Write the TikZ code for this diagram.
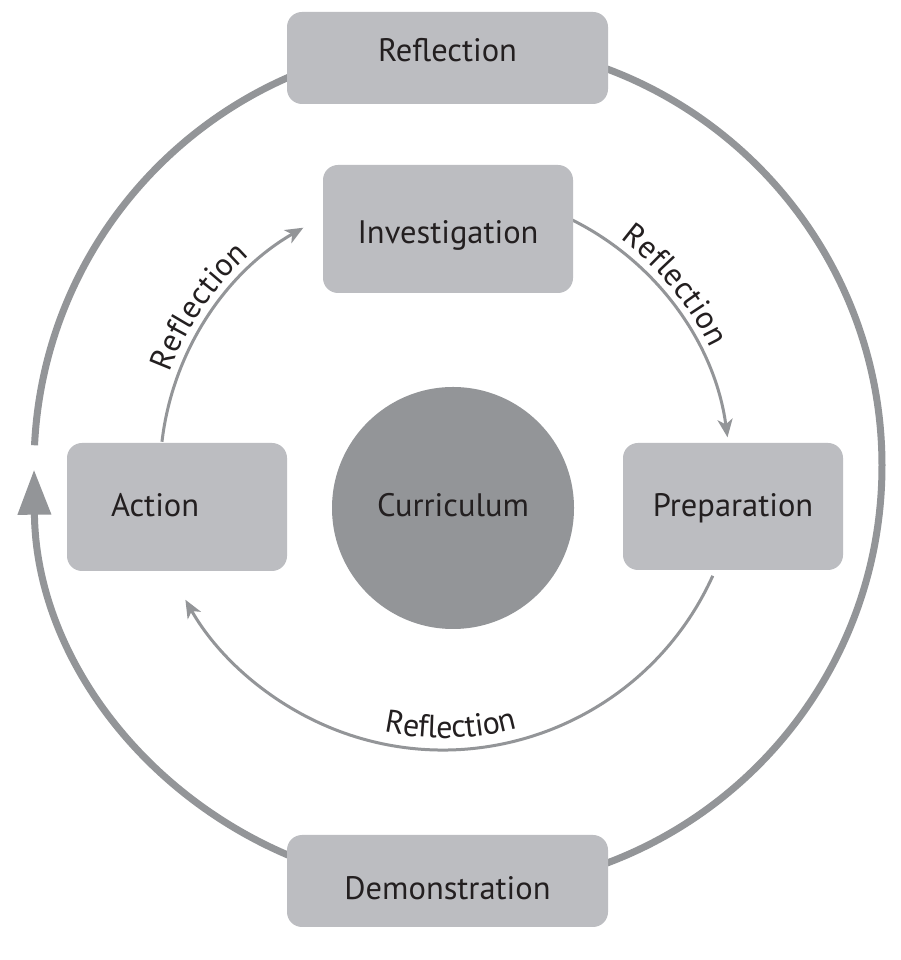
\documentclass[tikz,border=0pt]{standalone}
\usepackage{fontspec}
\setmainfont{PT Sans}
\usetikzlibrary{arrows.meta,decorations.text,calc}
\definecolor{boxgray}{RGB}{188,189,193}
\definecolor{ringgray}{RGB}{147,149,152}
\definecolor{txt}{RGB}{35,31,32}
\newcommand\boxfont{\fontsize{32.5}{36}\selectfont}
\newcommand\arcfont{\fontsize{32}{36}\selectfont}
\begin{document}
\begin{tikzpicture}[x=1pt,y=1pt,
  box/.style={draw=none, fill=boxgray, rounded corners=15pt, text=txt, font=\boxfont, text depth=0pt, inner sep=0pt},
  ring/.style={draw=ringgray, line width=7pt},
  flow/.style={draw=ringgray, line width=3pt, -{Stealth[length=18pt,width=15pt,inset=5pt]}},
  arclabel/.style={decorate, decoration={text along path, text={|\arcfont\color{txt}|Reflection}, text align=center, raise=#1}}
]
\useasboundingbox[fill=white] (0,0) rectangle (900,960);
\coordinate (oc) at (458,494);
\coordinate (ic) at (445,485);
\coordinate (bc) at (443,506);

% outer ring
\coordinate (ringStart) at ($(oc)+(177.2:424)$);
\draw[ring, -{Triangle[length=45pt,width=32pt]}] (ringStart) arc[start angle=177.2, end angle=-179.5, radius=424];

% inner flow arrows
\coordinate (actOut) at ($(ic)+(173.3:285)$);
\coordinate (invOut) at ($(ic)+(63.8:285)$);
\coordinate (prepOut) at ($(bc)+(-24.3:296)$);
\draw[flow] (actOut) arc[start angle=173.3, end angle=119.8, radius=285];
\draw[flow] (invOut) arc[start angle=63.8, end angle=7.6, radius=285];
\draw[flow] (prepOut) arc[start angle=-24.3, end angle=-150.5, radius=296];

% labels along arcs
\coordinate (lblL) at ($(ic)+(175.6:285)$);
\coordinate (lblR) at ($(ic)+(69.5:285)$);
\coordinate (lblB) at ($(bc)+(-128.4:296)$);
\path[arclabel=9pt] (lblL) arc[start angle=175.6, end angle=115.6, radius=285];
\path[arclabel=9pt] (lblR) arc[start angle=69.5, end angle=9.5, radius=285];
\path[arclabel=12pt] (lblB) arc[start angle=-128.4, end angle=-48.4, radius=296];

% boxes
\node[box, minimum width=321pt, minimum height=92pt, text height=8pt] (refl) at (447.5,902) {Reflection};
\node[box, minimum width=321pt, minimum height=92pt, text height=38pt] (demo) at (447.5,79) {Demonstration};
\node[box, minimum width=250pt, minimum height=128pt, text height=30pt] (inv) at (448,731) {Investigation};
\node[box, minimum width=220pt, minimum height=128pt, text height=20pt, text width=132pt, align=left, inner xsep=44pt] (act) at (177,453) {Action};
\node[box, minimum width=220pt, minimum height=127pt, text height=21pt] (prep) at (733,453.5) {Preparation};
\node[circle, fill=ringgray, minimum size=242pt, text=txt, font=\boxfont, text depth=0pt, text height=18pt, inner sep=0pt] (cur) at (453,452) {Curriculum};
\end{tikzpicture}
\end{document}
